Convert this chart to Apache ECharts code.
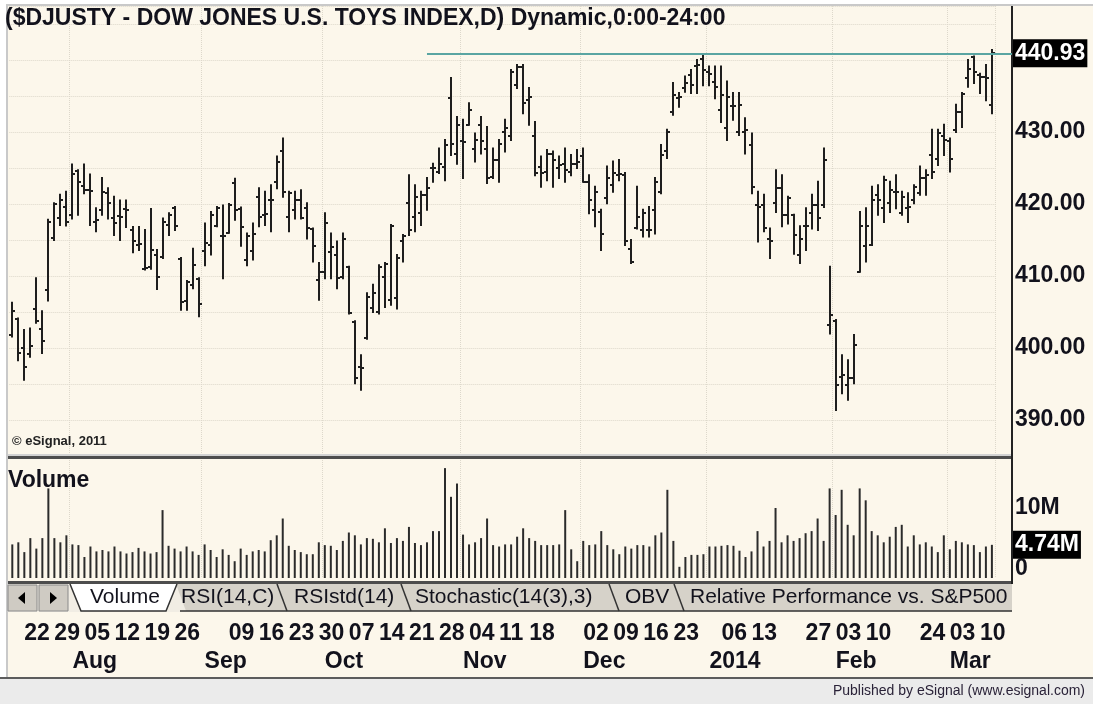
<!DOCTYPE html>
<html>
<head>
<meta charset="utf-8">
<title>$DJUSTY - Dow Jones U.S. Toys Index</title>
<script src="https://cdn.jsdelivr.net/npm/echarts@6/dist/echarts.min.js"></script>
<style>
  html, body { margin: 0; padding: 0; background: #fcf7eb; }
  #chart { width: 1093px; height: 704px; }
</style>
</head>
<body>
<div id="chart"></div>
<script>
// trading days shown on the chart
const dates = [
  '2013-07-18','2013-07-19','2013-07-22','2013-07-23','2013-07-24','2013-07-25','2013-07-26','2013-07-29','2013-07-30','2013-07-31',
  '2013-08-01','2013-08-02','2013-08-05','2013-08-06','2013-08-07','2013-08-08','2013-08-09','2013-08-12','2013-08-13','2013-08-14','2013-08-15','2013-08-16',
  '2013-08-19','2013-08-20','2013-08-21','2013-08-22','2013-08-23','2013-08-26','2013-08-27','2013-08-28','2013-08-29','2013-08-30',
  '2013-09-03','2013-09-04','2013-09-05','2013-09-06','2013-09-09','2013-09-10','2013-09-11','2013-09-12','2013-09-13','2013-09-16',
  '2013-09-17','2013-09-18','2013-09-19','2013-09-20','2013-09-23','2013-09-24','2013-09-25','2013-09-26','2013-09-27','2013-09-30',
  '2013-10-01','2013-10-02','2013-10-03','2013-10-04','2013-10-07','2013-10-08','2013-10-09','2013-10-10','2013-10-11','2013-10-14','2013-10-15',
  '2013-10-16','2013-10-17','2013-10-18','2013-10-21','2013-10-22','2013-10-23','2013-10-24','2013-10-25','2013-10-28','2013-10-29','2013-10-30','2013-10-31',
  '2013-11-01','2013-11-04','2013-11-05','2013-11-06','2013-11-07','2013-11-08','2013-11-11','2013-11-12','2013-11-13','2013-11-14','2013-11-15',
  '2013-11-18','2013-11-19','2013-11-20','2013-11-21','2013-11-22','2013-11-25','2013-11-26','2013-11-27','2013-11-29',
  '2013-12-02','2013-12-03','2013-12-04','2013-12-05','2013-12-06','2013-12-09','2013-12-10','2013-12-11','2013-12-12','2013-12-13',
  '2013-12-16','2013-12-17','2013-12-18','2013-12-19','2013-12-20','2013-12-23','2013-12-24','2013-12-26','2013-12-27','2013-12-30','2013-12-31',
  '2014-01-02','2014-01-03','2014-01-06','2014-01-07','2014-01-08','2014-01-09','2014-01-10','2014-01-13','2014-01-14','2014-01-15','2014-01-16','2014-01-17',
  '2014-01-21','2014-01-22','2014-01-23','2014-01-24','2014-01-27','2014-01-28','2014-01-29','2014-01-30','2014-01-31',
  '2014-02-03','2014-02-04','2014-02-05','2014-02-06','2014-02-07','2014-02-10','2014-02-11','2014-02-12','2014-02-13','2014-02-14',
  '2014-02-18','2014-02-19','2014-02-20','2014-02-21','2014-02-24','2014-02-25','2014-02-26','2014-02-27','2014-02-28',
  '2014-03-03','2014-03-04','2014-03-05','2014-03-06','2014-03-07','2014-03-10','2014-03-11','2014-03-12'
];

const openP = [
  401.8,404.0,400.0,399.2,405.4,402.6,408.0,415.3,418.0,419.6, 418.5,424.6,422.5,422.0,417.5,419.2,421.5,418.0,418.4,419.3,
  416.4,414.3,411.0,411.2,412.9,412.7,417.1,419.5,412.4,406.5, 408.7,409.6,413.5,414.3,417.0,415.5,416.0,422.9,419.3,412.2,
  413.5,421.0,418.5,420.5,423.1,427.3,418.2,419.2,420.6,419.4, 416.5,409.5,410.6,413.3,412.9,409.9,411.2,403.6,397.4,401.4,
  405.5,405.0,409.9,406.7,406.9,414.8,420.1,418.2,418.7,421.2, 425.0,424.5,425.2,434.7,427.0,428.7,431.0,427.7,431.0,427.7,
  423.8,426.1,430.0,429.5,436.5,439.0,434.4,429.4,425.2,424.5, 427.0,425.0,425.6,424.5,425.6,426.6,423.1,419.2,418.9,420.8,
  422.6,424.0,424.0,413.8,416.6,416.4,416.4,419.2,421.7,427.3, 432.8,434.7,436.1,437.9,439.1,440.2,438.3,437.0,433.1,430.5,
  433.6,430.0,430.0,428.2,419.9,419.9,415.2,420.1,422.2,418.5, 418.5,412.9,416.9,418.7,419.9,419.9,403.2,403.7,396.0,394.9,
  395.8,410.6,414.1,414.3,421.2,419.4,420.1,421.7,418.7,419.4, 420.6,421.5,423.6,426.8,426.3,429.4,428.7,430.3,432.8,437.5,
  440.4,437.9,437.7,433.8
];
const highP = [
  406.3,404.1,402.5,402.7,409.7,405.1,417.8,420.1,421.3,421.7, 425.5,424.7,425.5,424.1,419.4,423.6,422.2,421.0,420.5,420.5,
  416.8,416.8,416.4,419.3,413.6,418.0,418.7,419.6,412.5,409.3, 413.8,409.7,417.3,418.9,419.6,419.8,420.0,423.5,419.5,415.9,
  417.3,422.2,421.7,422.6,426.6,429.1,421.7,421.7,421.9,420.1, 416.6,411.8,418.7,415.9,414.8,415.9,411.3,403.7,399.0,407.6,
  408.8,411.5,411.8,417.1,412.9,415.7,424.0,422.6,421.7,423.6, 425.6,427.7,428.9,437.5,432.1,431.7,434.0,429.8,432.1,430.7,
  427.7,428.9,431.7,438.6,439.3,439.3,436.1,431.4,426.6,427.5, 427.3,426.6,427.7,426.8,427.5,427.7,424.0,422.4,419.2,425.2,
  425.9,426.1,424.3,415.0,422.4,419.2,419.6,423.6,428.2,430.3, 436.8,435.4,437.7,438.6,440.0,440.6,439.1,439.1,439.1,437.0,
  435.4,435.4,431.9,429.8,421.7,421.3,416.6,424.7,424.0,421.0, 418.5,416.9,419.4,421.3,423.1,427.7,411.3,403.9,399.0,398.3,
  401.8,418.9,419.4,422.4,422.6,423.8,423.1,424.0,421.7,421.5, 422.6,425.2,424.7,430.3,430.3,431.0,429.1,433.8,435.4,440.0,
  440.5,438.1,439.3,441.4
];
const lowP = [
  401.6,398.3,395.6,398.8,403.5,399.3,406.6,415.0,417.1,417.0, 418.0,418.5,421.5,417.1,416.2,418.5,418.0,415.7,415.0,416.8,
  413.3,413.6,410.9,411.0,408.2,412.5,415.7,416.4,405.3,405.3, 408.3,404.4,411.5,413.0,416.9,409.7,416.0,417.8,414.2,411.5,
  412.3,416.9,417.1,416.2,422.2,421.0,416.2,418.0,418.0,415.2, 412.0,406.7,409.7,409.7,408.3,409.7,404.8,395.1,394.2,401.3,
  405.0,404.8,405.7,406.0,405.5,412.0,415.7,416.2,417.1,419.2, 423.1,424.3,423.3,426.8,425.6,423.6,431.0,425.9,427.0,422.9,
  423.6,423.1,427.3,428.9,436.1,432.6,431.0,424.0,422.4,423.3, 422.4,423.6,423.1,424.0,425.0,423.1,418.7,416.9,413.6,420.1,
  421.7,423.3,414.3,411.8,416.6,415.5,415.5,415.9,421.5,426.4, 432.4,433.5,435.6,435.4,435.4,436.5,436.5,434.7,431.4,428.9,
  431.7,429.6,427.0,421.5,414.8,416.2,412.5,418.9,416.9,417.3, 413.1,411.8,413.6,416.6,416.4,419.6,402.0,391.4,393.7,392.8,
  395.1,410.6,412.0,414.3,418.5,417.5,418.9,419.4,418.5,417.5, 420.1,421.3,421.3,423.6,425.4,426.8,424.5,430.0,430.7,436.3,
  436.8,435.4,434.4,432.6
];
const closeP = [
  405.1,399.3,397.4,400.3,403.7,401.0,417.5,420.0,420.5,417.5, 424.1,423.1,422.0,421.8,417.8,421.6,420.1,417.3,418.2,419.1,
  414.8,414.5,411.1,413.6,409.9,417.5,418.5,416.9,406.4,409.2, 411.5,406.1,414.6,418.5,419.5,415.6,419.8,419.1,416.8,415.5,
  415.8,418.2,418.6,420.6,425.9,421.6,421.5,420.6,418.1,416.6, 414.1,410.6,417.3,414.0,409.7,415.2,404.9,395.8,397.2,407.1,
  407.6,411.3,411.7,416.9,412.5,415.5,416.4,421.0,421.2,422.2, 425.0,425.6,428.2,428.4,431.0,428.6,433.1,428.9,428.7,423.6,
  426.1,428.4,430.5,438.3,439.0,434.0,434.9,424.3,424.3,427.0, 426.1,425.4,424.7,425.6,425.9,423.1,420.6,421.7,415.9,423.6,
  424.3,424.2,414.8,412.0,418.2,418.7,416.4,423.1,426.8,430.0, 435.1,434.9,436.8,436.5,439.3,438.6,438.0,436.3,435.1,434.9,
  433.6,433.7,430.3,422.4,419.6,416.6,414.8,422.2,418.5,420.8, 415.7,415.2,416.9,419.9,418.0,426.1,404.6,394.9,396.2,395.8,
  400.4,416.9,416.9,420.6,420.6,423.3,421.9,421.7,421.0,419.6, 422.4,423.6,424.0,424.5,429.8,428.9,426.3,432.8,435.3,438.8,
  438.4,437.7,437.5,440.93
];
// volume in millions of shares
const volume = [
  4.8,5.1,3.7,5.7,4.2,5.7,12.8,5.7,5.1,6.1, 4.8,4.7,3.0,4.5,3.8,4.0,3.8,4.5,3.8,3.5,
  3.7,4.3,3.8,3.5,3.7,9.7,4.6,4.2,3.8,4.5, 3.8,3.3,4.8,4.0,3.0,4.1,3.3,2.4,4.2,3.3,
  3.8,4.0,3.8,5.4,6.1,8.5,4.6,4.0,3.7,3.4, 3.4,5.1,4.7,4.6,4.0,5.3,6.5,6.1,4.8,5.7,
  5.6,5.1,7.1,5.0,5.7,5.3,7.3,5.0,4.7,5.1, 6.7,6.7,15.7,11.6,13.5,6.2,4.8,5.1,5.7,8.5,
  4.7,4.5,4.8,4.8,5.9,7.1,5.7,5.3,4.7,4.7, 4.7,4.8,9.7,4.1,2.4,5.3,4.7,4.8,6.7,4.7,
  4.1,3.4,4.5,4.2,4.7,4.7,4.5,6.1,6.5,12.6, 5.3,1.6,3.0,3.3,3.3,3.4,4.5,4.5,4.6,4.7,
  4.6,3.9,3.0,3.8,6.7,4.5,5.3,10.0,5.1,6.1, 5.3,5.7,6.4,6.7,8.5,5.3,12.8,9.0,12.6,7.6,
  6.1,12.8,11.1,6.7,6.1,5.1,5.9,7.3,7.6,4.5, 6.1,4.8,5.1,4.5,3.7,6.1,4.1,5.3,5.1,4.8,
  4.7,3.7,4.5,4.74
];

// date axis labels (weekly day numbers, month names)
const weekLabels = [
  '2013-07-22','2013-07-29','2013-08-05','2013-08-12','2013-08-19','2013-08-26',
  '2013-09-09','2013-09-16','2013-09-23','2013-09-30','2013-10-07','2013-10-14','2013-10-21','2013-10-28',
  '2013-11-04','2013-11-11','2013-11-18','2013-12-02','2013-12-09','2013-12-16','2013-12-23',
  '2014-01-06','2014-01-13','2014-01-27','2014-02-03','2014-02-10','2014-02-24','2014-03-03','2014-03-10'
];
const monthStarts = ['2013-08-01','2013-09-03','2013-10-01','2013-11-01','2013-12-02','2014-01-02','2014-02-03','2014-03-03'];
const monthNames = ['Aug','Sep','Oct','Nov','Dec','2014','Feb','Mar'];
const lineStart = '2013-10-24';   // where the horizontal price line begins

const FONT = '"Liberation Sans", Arial, sans-serif';
const INK = '#12121c';
const barColor = '#1e1e1e';
const dotColor = '#ddd8cb';
const lastIdx = dates.length - 1;
const lastClose = closeP[lastIdx];

const ohlc = dates.map((d, i) => [i, openP[i], highP[i], lowP[i], closeP[i]]);

const chart = echarts.init(document.getElementById('chart'));

function monthLine(idx, val) { return monthStarts.indexOf(val) >= 0; }

const tabNames = ['RSI(14,C)', 'RSIstd(14)', 'Stochastic(14(3),3)', 'OBV', 'Relative Performance vs. S&P500'];
const tabTextX = [181, 294, 415, 625, 690];
const tabEdgeX = [277, 401, 609, 674];

const graphics = [
  // frame
  { type: 'rect', z: 5, shape: { x: 0, y: 0, width: 1093, height: 4 }, style: { fill: '#ffffff' } },
  { type: 'rect', z: 5, shape: { x: 0, y: 4, width: 1093, height: 2 }, style: { fill: '#c9c9c9' } },
  { type: 'rect', z: 5, shape: { x: 0, y: 0, width: 6, height: 678 }, style: { fill: '#ffffff' } },
  { type: 'rect', z: 5, shape: { x: 6, y: 4, width: 2, height: 674 }, style: { fill: '#c9c9c9' } },
  // pane separators
  { type: 'rect', z: 5, shape: { x: 8, y: 454, width: 1004, height: 2 }, style: { fill: '#d2d2d2' } },
  { type: 'rect', z: 5, shape: { x: 8, y: 456, width: 1005, height: 3 }, style: { fill: '#4d4d4d' } },
  { type: 'rect', z: 5, shape: { x: 8, y: 581, width: 1005, height: 3 }, style: { fill: '#4d4d4d' } },
  // right price scale line
  { type: 'rect', z: 5, shape: { x: 1011, y: 6, width: 2, height: 578 }, style: { fill: '#222' } },
  // tab strip
  { type: 'rect', z: 5, shape: { x: 8, y: 584, width: 1004, height: 28 }, style: { fill: '#f1ede4' } },
  { type: 'polygon', z: 5, shape: { points: [[176, 584], [1012, 584], [1012, 611], [186, 611]] }, style: { fill: '#d6d2c9' } },
  { type: 'line', z: 6, shape: { x1: 180, y1: 611, x2: 1012, y2: 611 }, style: { stroke: '#333', lineWidth: 1.5 } },
  { type: 'rect', z: 6, shape: { x: 8, y: 585, width: 29, height: 26 }, style: { fill: '#cfcbc3', stroke: '#8a8a8a', lineWidth: 1 } },
  { type: 'rect', z: 6, shape: { x: 39, y: 585, width: 29, height: 26 }, style: { fill: '#cfcbc3', stroke: '#8a8a8a', lineWidth: 1 } },
  { type: 'polygon', z: 7, shape: { points: [[18, 598], [25, 592], [25, 604]] }, style: { fill: '#000' } },
  { type: 'polygon', z: 7, shape: { points: [[50, 592], [57, 598], [50, 604]] }, style: { fill: '#000' } },
  { type: 'polygon', z: 7, shape: { points: [[70, 584], [81, 611], [166, 611], [177, 584]] }, style: { fill: '#ffffff' } },
  { type: 'polyline', z: 8, shape: { points: [[70, 584], [81, 611], [166, 611], [177, 584]] }, style: { stroke: '#333', lineWidth: 1.5, fill: null } },
  { type: 'text', z: 8, left: 90, top: 587, style: { text: 'Volume', font: '21px ' + FONT, fill: INK } },
  // bottom bar
  { type: 'rect', z: 5, shape: { x: 0, y: 677, width: 1093, height: 2 }, style: { fill: '#5c5c5c' } },
  { type: 'rect', z: 5, shape: { x: 0, y: 679, width: 1093, height: 25 }, style: { fill: '#ebebeb' } },
  // texts
  { type: 'text', z: 9, left: 5, top: 7, style: { text: '($DJUSTY - DOW JONES U.S. TOYS INDEX,D) Dynamic,0:00-24:00', font: 'bold 23px ' + FONT, fill: INK } },
  { type: 'text', z: 9, left: 8, top: 469, style: { text: 'Volume', font: 'bold 23px ' + FONT, fill: INK } },
  { type: 'text', z: 9, left: 12, top: 435, style: { text: '\u00a9 eSignal, 2011', font: 'bold 13px ' + FONT, fill: '#222' } },
  { type: 'text', z: 9, right: 8, top: 684, style: { text: 'Published by eSignal (www.esignal.com)', font: '14px ' + FONT, fill: '#2a2238' } }
];
tabEdgeX.forEach(x => {
  graphics.push({ type: 'line', z: 6, shape: { x1: x, y1: 584, x2: x + 10, y2: 611 }, style: { stroke: '#333', lineWidth: 1.5 } });
});
tabNames.forEach((t, k) => {
  graphics.push({ type: 'text', z: 7, left: tabTextX[k], top: 587, style: { text: t, font: '21px ' + FONT, fill: INK } });
});
// clip tab labels at the price scale
graphics.push({ type: 'rect', z: 8, shape: { x: 1013, y: 584, width: 80, height: 28 }, style: { fill: '#fcf7eb' } });

const axisLabelFont = { fontFamily: FONT, fontWeight: 'bold', fontSize: 23, color: INK };
const boxLabel = {
  show: true, position: 'end', distance: 1,
  color: '#fff', backgroundColor: '#000', fontFamily: FONT, fontWeight: 'bold', fontSize: 23,
  padding: [3, 2, 2, 2]
};

const option = {
  animation: false,
  backgroundColor: '#fcf7eb',
  grid: [
    { left: 9.3, right: 98.1, top: 6, height: 450 },
    { left: 9.3, right: 98.1, top: 460, height: 118 }
  ],
  xAxis: [
    {
      type: 'category', gridIndex: 0, data: dates, boundaryGap: true,
      axisLine: { show: false }, axisTick: { show: false }, axisLabel: { show: false },
      splitLine: { show: true, interval: monthLine, lineStyle: { color: dotColor, type: 'dotted', width: 1 } }
    },
    {
      type: 'category', gridIndex: 1, data: dates, boundaryGap: true, position: 'bottom',
      axisLine: { show: false }, axisTick: { show: false },
      axisLabel: Object.assign({
        interval: (idx, val) => weekLabels.indexOf(val) >= 0,
        formatter: v => v.slice(8), align: 'left', margin: 44
      }, axisLabelFont),
      splitLine: { show: true, interval: monthLine, lineStyle: { color: dotColor, type: 'dotted', width: 1 } }
    },
    {
      type: 'category', gridIndex: 1, data: dates, boundaryGap: true, position: 'bottom',
      axisLine: { show: false }, axisTick: { show: false },
      axisLabel: Object.assign({
        interval: (idx, val) => monthStarts.indexOf(val) >= 0,
        formatter: v => monthNames[monthStarts.indexOf(v)], align: 'left', margin: 72
      }, axisLabelFont),
      splitLine: { show: false }
    }
  ],
  yAxis: [
    {
      type: 'value', gridIndex: 0, position: 'right', offset: 17,
      min: 385, max: 447.5, interval: 5,
      axisLine: { show: false }, axisTick: { show: false },
      axisLabel: Object.assign({ margin: 3, formatter: v => (v % 10 === 0 ? v.toFixed(2) : '') }, axisLabelFont),
      splitLine: { show: true, lineStyle: { color: dotColor, type: 'dotted', width: 1 } }
    },
    {
      type: 'value', gridIndex: 1, position: 'right', offset: 17,
      min: 0, max: 16.86, interval: 10,
      axisLine: { show: false }, axisTick: { show: false },
      axisLabel: Object.assign({
        margin: 3,
        formatter: v => (v === 0 ? '{z|0}' : (v === 10 ? '10M' : '')),
        rich: { z: { padding: [0, 0, 18, 0], fontFamily: FONT, fontWeight: 'bold', fontSize: 23, color: INK } }
      }, axisLabelFont),
      splitLine: { show: false }
    }
  ],
  series: [
    {
      name: '$DJUSTY', type: 'custom', xAxisIndex: 0, yAxisIndex: 0,
      data: ohlc,
      encode: { x: 0, y: [1, 2, 3, 4] },
      renderItem: function (params, api) {
        const i = api.value(0);
        const pO = api.coord([i, api.value(1)]);
        const pH = api.coord([i, api.value(2)]);
        const pL = api.coord([i, api.value(3)]);
        const pC = api.coord([i, api.value(4)]);
        const x = Math.round(pH[0]);
        const st = { stroke: barColor, lineWidth: 2 };
        return {
          type: 'group',
          children: [
            { type: 'line', shape: { x1: x, y1: pH[1] - 1, x2: x, y2: pL[1] + 1 }, style: st },
            { type: 'line', shape: { x1: x - 3, y1: Math.round(pO[1]), x2: x, y2: Math.round(pO[1]) }, style: st },
            { type: 'line', shape: { x1: x, y1: Math.round(pC[1]), x2: x + 3, y2: Math.round(pC[1]) }, style: st }
          ]
        };
      },
      markLine: {
        silent: true, symbol: ['none', 'none'], animation: false,
        lineStyle: { color: '#5aa5a2', width: 2, type: 'solid' },
        label: Object.assign({ formatter: () => lastClose.toFixed(2) }, boxLabel),
        data: [[{ coord: [lineStart, lastClose] }, { coord: [dates[lastIdx], lastClose], x: 1012 }]]
      },
      z: 3
    },
    {
      name: 'Volume', type: 'bar', xAxisIndex: 1, yAxisIndex: 1,
      data: volume, barWidth: 2,
      itemStyle: { color: '#2b2b2b' },
      markLine: {
        silent: true, symbol: ['none', 'none'], animation: false,
        lineStyle: { color: 'rgba(0,0,0,0)', width: 1, type: 'solid' },
        label: Object.assign({ formatter: () => volume[lastIdx].toFixed(2) + 'M' }, boxLabel),
        data: [[{ coord: [dates[lastIdx], volume[lastIdx]], x: 1000 }, { coord: [dates[lastIdx], volume[lastIdx]], x: 1012 }]]
      },
      z: 3
    }
  ],
  graphic: graphics
};

chart.setOption(option);
</script>
</body>
</html>
